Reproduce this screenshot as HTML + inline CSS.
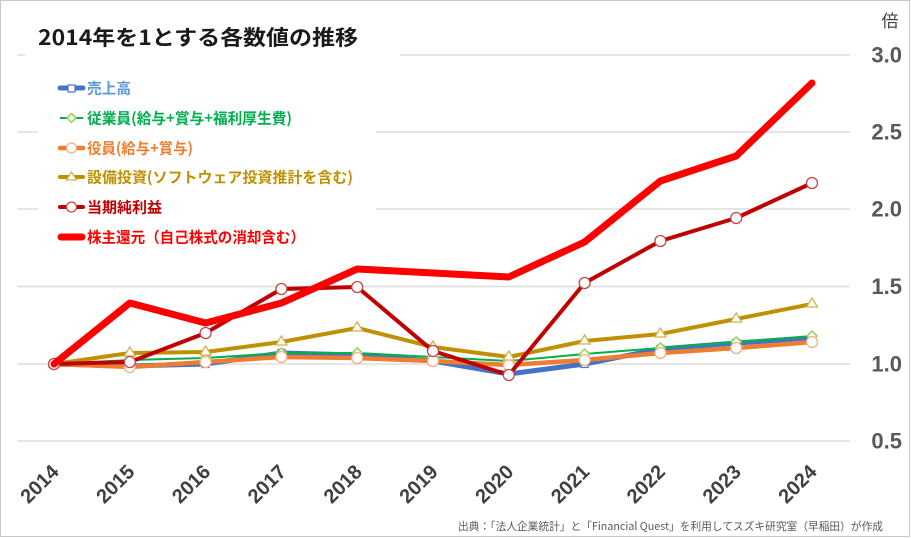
<!DOCTYPE html>
<html><head><meta charset="utf-8">
<style>
html,body{margin:0;padding:0;background:#fff;}
svg{display:block;}
text{font-family:"Liberation Sans","Noto Sans CJK JP",sans-serif;}
.cj{font-family:"Noto Sans CJK JP","Liberation Sans",sans-serif;}
</style></head>
<body>
<svg width="911" height="538" viewBox="0 0 911 538" xmlns="http://www.w3.org/2000/svg">
<rect x="0" y="0" width="911" height="538" fill="#fff"/>
<rect x="0.5" y="0.5" width="909" height="536" fill="none" stroke="#C8C8C8" stroke-width="1"/>

<!-- gridlines -->
<g stroke="#DDDDDD" stroke-width="1.5">
<line x1="17" y1="55" x2="850" y2="55"/>
<line x1="17" y1="132" x2="850" y2="132"/>
<line x1="17" y1="209" x2="850" y2="209"/>
<line x1="17" y1="286.5" x2="850" y2="286.5"/>
<line x1="17" y1="364" x2="850" y2="364"/>
<line x1="17" y1="441" x2="850" y2="441"/>
</g>

<!-- title / legend white boxes -->
<rect x="25" y="18" width="375" height="46" fill="#fff"/>
<rect x="38" y="64" width="338" height="190" fill="#fff"/>

<!-- y labels -->
<g font-size="22" font-weight="bold" fill="#595959" text-anchor="end">
<text x="902" y="62.5">3.0</text>
<text x="902" y="139.5">2.5</text>
<text x="902" y="216.5">2.0</text>
<text x="902" y="294">1.5</text>
<text x="902" y="371.5">1.0</text>
<text x="902" y="448.5">0.5</text>
</g>
<text class="cj" x="890" y="27" font-size="17" fill="#404040" text-anchor="middle">倍</text>

<!-- title -->
<text class="cj" x="38" y="45" font-size="21" font-weight="bold" fill="#1a1a1a" textLength="320" lengthAdjust="spacingAndGlyphs">2014年を1とする各数値の推移</text>

<!-- series: 売上高 (blue) -->
<polyline fill="none" stroke="#4472C4" stroke-width="5" stroke-linejoin="round"
points="54,364 129.8,366 205.6,364 281.4,353 357.2,355 433,361 508.8,374 584.6,364 660.4,349 736.2,343 812,338"/>
<g fill="#fff" stroke="#4472C4" stroke-width="1.2">
<rect x="50.5" y="360.5" width="7" height="7"/><rect x="126.3" y="362.5" width="7" height="7"/><rect x="202.1" y="360.5" width="7" height="7"/><rect x="277.9" y="349.5" width="7" height="7"/><rect x="353.7" y="351.5" width="7" height="7"/><rect x="429.5" y="357.5" width="7" height="7"/><rect x="505.3" y="370.5" width="7" height="7"/><rect x="581.1" y="360.5" width="7" height="7"/><rect x="656.9" y="345.5" width="7" height="7"/><rect x="732.7" y="339.5" width="7" height="7"/><rect x="808.5" y="334.5" width="7" height="7"/>
</g>

<!-- 従業員 (green) -->
<polyline fill="none" stroke="#00B050" stroke-width="2" stroke-linejoin="round"
points="54,364 129.8,360 205.6,358 281.4,353 357.2,353 433,357 508.8,361 584.6,354 660.4,348 736.2,342 812,336"/>
<g fill="#fff" stroke="#92D050" stroke-width="1.5">
<polygon points="54,359 59,364 54,369 49,364"/><polygon points="129.8,355 134.8,360 129.8,365 124.8,360"/><polygon points="205.6,353 210.6,358 205.6,363 200.6,358"/><polygon points="281.4,348 286.4,353 281.4,358 276.4,353"/><polygon points="357.2,348 362.2,353 357.2,358 352.2,353"/><polygon points="433,352 438,357 433,362 428,357"/><polygon points="508.8,356 513.8,361 508.8,366 503.8,361"/><polygon points="584.6,349 589.6,354 584.6,359 579.6,354"/><polygon points="660.4,343 665.4,348 660.4,353 655.4,348"/><polygon points="736.2,337 741.2,342 736.2,347 731.2,342"/><polygon points="812,331 817,336 812,341 807,336"/>
</g>

<!-- 役員 (orange) -->
<polyline fill="none" stroke="#ED7D31" stroke-width="4.5" stroke-linejoin="round"
points="54,364 129.8,367 205.6,362 281.4,357 357.2,358 433,361 508.8,365 584.6,360 660.4,353 736.2,348 812,342"/>
<g fill="#fff" stroke="#F4B183" stroke-width="1.3">
<circle cx="54" cy="364" r="5.5"/><circle cx="129.8" cy="367" r="5.5"/><circle cx="205.6" cy="362" r="5.5"/><circle cx="281.4" cy="357" r="5.5"/><circle cx="357.2" cy="358" r="5.5"/><circle cx="433" cy="361" r="5.5"/><circle cx="508.8" cy="365" r="5.5"/><circle cx="584.6" cy="360" r="5.5"/><circle cx="660.4" cy="353" r="5.5"/><circle cx="736.2" cy="348" r="5.5"/><circle cx="812" cy="342" r="5.5"/>
</g>

<!-- 設備投資 (gold) -->
<polyline fill="none" stroke="#BF9000" stroke-width="4" stroke-linejoin="round"
points="54,364 129.8,353 205.6,352 281.4,342 357.2,328 433,347 508.8,357 584.6,341 660.4,334 736.2,319 812,304"/>
<g fill="#fff" stroke="#D4B24C" stroke-width="1.3">
<polygon points="54,358 59.5,367 48.5,367"/><polygon points="129.8,347 135.3,356 124.3,356"/><polygon points="205.6,346 211.1,355 200.1,355"/><polygon points="281.4,336 286.9,345 275.9,345"/><polygon points="357.2,322 362.7,331 351.7,331"/><polygon points="433,341 438.5,350 427.5,350"/><polygon points="508.8,351 514.3,360 503.3,360"/><polygon points="584.6,335 590.1,344 579.1,344"/><polygon points="660.4,328 665.9,337 654.9,337"/><polygon points="736.2,313 741.7,322 730.7,322"/><polygon points="812,298 817.5,307 806.5,307"/>
</g>

<!-- 当期純利益 (dark red) -->
<polyline fill="none" stroke="#C00000" stroke-width="4" stroke-linejoin="round"
points="54,364 129.8,362 205.6,333 281.4,289 357.2,287 433,351 508.8,375 584.6,283 660.4,241 736.2,218 812,183"/>
<g fill="#fff" stroke="#C9474A" stroke-width="1.3">
<circle cx="54" cy="364" r="5.5"/><circle cx="129.8" cy="362" r="5.5"/><circle cx="205.6" cy="333" r="5.5"/><circle cx="281.4" cy="289" r="5.5"/><circle cx="357.2" cy="287" r="5.5"/><circle cx="433" cy="351" r="5.5"/><circle cx="508.8" cy="375" r="5.5"/><circle cx="584.6" cy="283" r="5.5"/><circle cx="660.4" cy="241" r="5.5"/><circle cx="736.2" cy="218" r="5.5"/><circle cx="812" cy="183" r="5.5"/>
</g>

<!-- 株主還元 (red thick) -->
<polyline fill="none" stroke="#FF0000" stroke-width="7" stroke-linejoin="round" stroke-linecap="round"
points="54,364 129.8,303 205.6,323 281.4,303 357.2,269 433,273 508.8,277 584.6,242 660.4,181 736.2,156 812,83"/>

<!-- legend -->
<g>
<line x1="60" y1="88" x2="83" y2="88" stroke="#4472C4" stroke-width="5" stroke-linecap="round"/>
<rect x="68" y="85" width="7" height="7" fill="#fff" stroke="#4472C4" stroke-width="1.2"/>
<text class="cj" x="87" y="93.5" font-size="15" font-weight="bold" fill="#5B9BD5" textLength="44" lengthAdjust="spacingAndGlyphs">売上高</text>

<line x1="60" y1="118" x2="83" y2="118" stroke="#00B050" stroke-width="2"/>
<polygon points="71.5,113.5 76,118 71.5,122.5 67,118" fill="#fff" stroke="#92D050" stroke-width="1.5"/>
<text class="cj" x="87" y="123.5" font-size="15" font-weight="bold" fill="#00B050" textLength="205" lengthAdjust="spacingAndGlyphs">従業員(給与+賞与+福利厚生費)</text>

<line x1="60" y1="148" x2="83" y2="148" stroke="#ED7D31" stroke-width="4.5" stroke-linecap="round"/>
<circle cx="71.5" cy="148" r="5" fill="#fff" stroke="#F4B183" stroke-width="1.3"/>
<text class="cj" x="87" y="153.5" font-size="15" font-weight="bold" fill="#ED7D31" textLength="106" lengthAdjust="spacingAndGlyphs">役員(給与+賞与)</text>

<line x1="60" y1="177" x2="83" y2="177" stroke="#BF9000" stroke-width="4" stroke-linecap="round"/>
<polygon points="71.5,172 76.5,180 66.5,180" fill="#fff" stroke="#D4B24C" stroke-width="1.3"/>
<text class="cj" x="87" y="182.5" font-size="15" font-weight="bold" fill="#BF9000" textLength="266" lengthAdjust="spacingAndGlyphs">設備投資(ソフトウェア投資推計を含む)</text>

<line x1="60" y1="207" x2="83" y2="207" stroke="#C00000" stroke-width="4" stroke-linecap="round"/>
<circle cx="71.5" cy="207" r="5" fill="#fff" stroke="#C9474A" stroke-width="1.3"/>
<text class="cj" x="87" y="212.5" font-size="15" font-weight="bold" fill="#C00000" textLength="75" lengthAdjust="spacingAndGlyphs">当期純利益</text>

<line x1="61" y1="237" x2="82" y2="237" stroke="#FF0000" stroke-width="7" stroke-linecap="round"/>
<text class="cj" x="87" y="242.5" font-size="15" font-weight="bold" fill="#FF0000" textLength="218" lengthAdjust="spacingAndGlyphs">株主還元（自己株式の消却含む）</text>
</g>

<!-- x labels -->
<g font-size="20" font-weight="bold" fill="#404040" text-anchor="end">
<text transform="translate(60,473) rotate(-45)">2014</text>
<text transform="translate(135.8,473) rotate(-45)">2015</text>
<text transform="translate(211.6,473) rotate(-45)">2016</text>
<text transform="translate(287.4,473) rotate(-45)">2017</text>
<text transform="translate(363.2,473) rotate(-45)">2018</text>
<text transform="translate(439,473) rotate(-45)">2019</text>
<text transform="translate(514.8,473) rotate(-45)">2020</text>
<text transform="translate(590.6,473) rotate(-45)">2021</text>
<text transform="translate(666.4,473) rotate(-45)">2022</text>
<text transform="translate(742.2,473) rotate(-45)">2023</text>
<text transform="translate(818,473) rotate(-45)">2024</text>
</g>

<!-- source -->
<text class="cj" x="458" y="530" font-size="11" fill="#595959" textLength="425" lengthAdjust="spacingAndGlyphs">出典：「法人企業統計」と「Financial Quest」を利用してスズキ研究室（早稲田）が作成</text>
</svg>
</body></html>
